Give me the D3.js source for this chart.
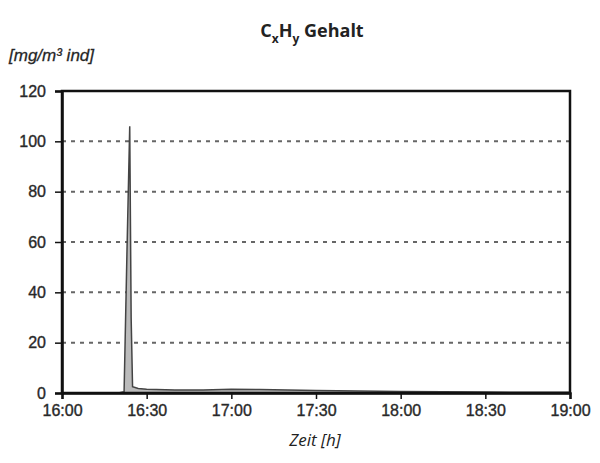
<!DOCTYPE html>
<html>
<head>
<meta charset="utf-8">
<script src="https://cdn.jsdelivr.net/npm/d3@7"></script>
<style>
  body { margin: 0; background: #fff; }
  text { fill: #222; }
</style>
</head>
<body>
<svg id="svg" width="600" height="463"></svg>
<script>
// measured values, CxHy content over time
var times = ["16:00", "16:10", "16:20", "16:22", "16:23", "16:24", "16:24:30", "16:25", "16:27", "16:30",
    "16:40", "16:50", "17:00", "17:10", "17:20", "17:30", "17:45", "18:00", "18:15", "18:30", "18:45", "19:00"];
var values = [0, 0, 0, 0.5, 55, 106, 30, 2.5, 1.8, 1.5,
    1.2, 1.2, 1.5, 1.4, 1.2, 1.0, 0.8, 0.6, 0.5, 0.4, 0.3, 0.3];
var yTicks = [0, 20, 40, 60, 80, 100, 120];
var xTicks = ["16:00", "16:30", "17:00", "17:30", "18:00", "18:30", "19:00"];

var chart = {};
chart.svg = d3.select('#svg');
chart.left = 62;
chart.right = 570;
chart.top = 91;
chart.bottom = 393;

var parse = function (s) {
    return s.length > 5 ? d3.timeParse("%H:%M:%S")(s) : d3.timeParse("%H:%M")(s);
};

var data = times.map(function (t, i) {
    return {t: parse(t), v: values[i]};
});

var x = d3.scaleTime()
        .domain([parse("16:00"), parse("19:00")])
        .range([chart.left, chart.right]);
var y = d3.scaleLinear()
        .domain([0, 120])
        .range([chart.bottom, chart.top]);

var svg = chart.svg;

// grid lines
svg.append('g').selectAll('line')
    .data(yTicks.filter(function (d) { return d > 0 && d < 120; }))
    .enter().append('line')
    .attr('x1', chart.left).attr('x2', chart.right)
    .attr('y1', function (d) { return y(d); })
    .attr('y2', function (d) { return y(d); })
    .attr('stroke', '#666')
    .attr('stroke-width', 2)
    .attr('stroke-dasharray', '4,5');

// series
svg.append('path')
    .datum(data)
    .attr('fill', '#bbb')
    .attr('d', d3.area()
        .x(function (d) { return x(d.t); })
        .y0(y(0))
        .y1(function (d) { return y(d.v); }));

svg.append('path')
    .datum(data)
    .attr('fill', 'none')
    .attr('stroke', '#444')
    .attr('stroke-width', 1.5)
    .attr('d', d3.line()
        .x(function (d) { return x(d.t); })
        .y(function (d) { return y(d.v); }));

// frame
svg.append('rect')
    .attr('x', chart.left).attr('y', chart.top)
    .attr('width', chart.right - chart.left)
    .attr('height', chart.bottom - chart.top)
    .attr('fill', 'none')
    .attr('stroke', '#111')
    .attr('stroke-width', 2.5);

// axes
var xAxis = svg.append('g')
    .attr('transform', 'translate(0,' + chart.bottom + ')')
    .call(d3.axisBottom(x)
        .tickValues(xTicks.map(parse))
        .tickFormat(d3.timeFormat("%H:%M"))
        .tickSize(6).tickPadding(6));

var yAxis = svg.append('g')
    .attr('transform', 'translate(' + chart.left + ',0)')
    .call(d3.axisLeft(y)
        .tickValues(yTicks)
        .tickSize(7).tickPadding(9));

[xAxis, yAxis].forEach(function (a) {
    a.select('.domain').attr('stroke', '#111').attr('stroke-width', 2.5);
    a.selectAll('.tick line').attr('stroke', '#111').attr('stroke-width', 1.5);
    a.selectAll('.tick text')
        .attr('fill', '#3a3a3a')
        .attr('stroke', '#3a3a3a')
        .attr('stroke-width', 0.4)
        .style('font-family', '"Liberation Sans", Arial, sans-serif')
        .style('font-size', '16px');
});

// title
var title = svg.append('text')
    .attr('x', 312).attr('y', 37)
    .attr('text-anchor', 'middle')
    .style('font-family', '"Open Sans", sans-serif')
    .style('font-weight', 'bold')
    .style('font-size', '18px');
title.append('tspan').text('C');
title.append('tspan').attr('dy', 6).style('font-size', '12px').text('x');
title.append('tspan').attr('dy', -6).text('H');
title.append('tspan').attr('dy', 6).style('font-size', '12px').text('y');
title.append('tspan').attr('dy', -6).text(' Gehalt');

// y unit
svg.append('text')
    .attr('x', 9).attr('y', 61)
    .style('font-family', '"Liberation Sans", Arial, sans-serif')
    .style('font-style', 'italic')
    .style('font-size', '17px')
    .attr('fill', '#333')
    .attr('stroke', '#333')
    .attr('stroke-width', 0.3)
    .text('[mg/m³ ind]');

// x label
svg.append('text')
    .attr('x', 315).attr('y', 446)
    .attr('text-anchor', 'middle')
    .style('font-family', '"Open Sans", sans-serif')
    .style('font-style', 'italic')
    .style('font-size', '17px')
    .text('Zeit [h]');
</script>
</body>
</html>
